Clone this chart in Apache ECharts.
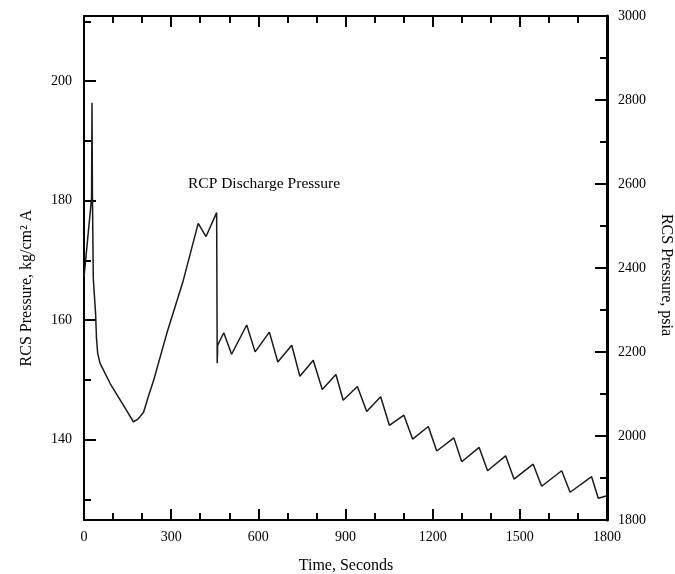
<!DOCTYPE html>
<html>
<head>
<meta charset="utf-8">
<script src="https://cdn.jsdelivr.net/npm/echarts@6/dist/echarts.min.js"></script>
<style>
html,body{margin:0;padding:0;background:#fff;}
#chart{width:675px;height:574px;}
</style>
</head>
<body>
<div id="chart"></div>
<script>
// ---- data ----
const timeSec = [0, 26, 27.5, 29, 32, 40, 43, 47, 55, 90,
  120, 150, 170, 185, 205, 222, 240, 285, 342, 393,
  420, 456.5, 458.5, 460, 481, 508, 560, 589, 638, 667,
  715, 743, 789, 820, 867, 892, 941, 973, 1021, 1051,
  1101, 1131, 1185, 1214, 1273, 1300, 1360, 1389, 1451, 1480,
  1546, 1575, 1644, 1673, 1747, 1770, 1800];
const rcsPressureKg = [167.2, 180.4, 196.4, 181, 167, 161, 157, 154.5, 152.8, 149.4,
  147.0, 144.6, 143.0, 143.4, 144.6, 147.3, 150.0, 157.8, 166.7, 176.2,
  174.0, 178.0, 152.8, 155.8, 157.9, 154.3, 159.2, 154.7, 158.0, 153.0,
  155.8, 150.6, 153.3, 148.4, 150.9, 146.6, 148.9, 144.7, 147.2, 142.4,
  144.1, 140.1, 142.2, 138.1, 140.3, 136.3, 138.7, 134.8, 137.3, 133.4,
  135.9, 132.2, 134.8, 131.2, 133.8, 130.2, 130.6];
const leftMajorTicks = [140, 160, 180, 200];
const leftMinorTicks = [130, 150, 170, 190, 210];
const psiaRange = [1800, 3000];
const timeRange = [0, 1800];
const PSI_PER_KGCM2 = 14.2233;
const annotationText = 'RCP Discharge Pressure';
const xTitle = 'Time, Seconds';
const leftTitle = 'RCS Pressure, kg/cm\u00B2 A';
const rightTitle = 'RCS Pressure, psia';

// ---- chart ----
const FONT = 'Liberation Serif';
const kgMin = psiaRange[0] / PSI_PER_KGCM2;
const kgMax = psiaRange[1] / PSI_PER_KGCM2;
const lbl = {color: '#000', fontFamily: FONT, fontSize: 14, formatter: v => String(Math.round(v))};
const line2 = {color: '#000', width: 2};

const chart = echarts.init(document.getElementById('chart'), null, {renderer: 'canvas'});
const xCommon = {
  type: 'value', min: timeRange[0], max: timeRange[1], interval: 300,
  axisLine: {show: true, onZero: false, lineStyle: line2},
  axisTick: {show: true, inside: true, length: 11, lineStyle: line2},
  minorTick: {show: true, splitNumber: 3, length: 7, lineStyle: line2},
  splitLine: {show: false}, minorSplitLine: {show: false}
};
chart.setOption({
  animation: false,
  backgroundColor: '#fff',
  grid: {left: 84, right: 68, top: 16, bottom: 54, containLabel: false},
  xAxis: [
    Object.assign({}, xCommon, {position: 'bottom', axisLabel: Object.assign({margin: 10}, lbl)}),
    Object.assign({}, xCommon, {position: 'top', axisLabel: {show: false}})
  ],
  yAxis: [
    {
      type: 'value', position: 'left', min: kgMin, max: kgMax,
      axisLine: {show: true, onZero: false, lineStyle: line2},
      axisTick: {show: true, inside: true, length: 12, lineStyle: line2, customValues: leftMajorTicks},
      axisLabel: Object.assign({margin: 12, customValues: leftMajorTicks}, lbl),
      splitLine: {show: false}
    },
    {
      type: 'value', position: 'left', min: kgMin, max: kgMax,
      axisLine: {show: false},
      axisTick: {show: true, inside: true, length: 7, lineStyle: line2, customValues: leftMinorTicks},
      axisLabel: {show: false},
      splitLine: {show: false}
    },
    {
      type: 'value', position: 'right', min: psiaRange[0], max: psiaRange[1], interval: 200,
      axisLine: {show: true, onZero: false, lineStyle: {color: '#000', width: 3}},
      axisTick: {show: true, inside: true, length: 12, lineStyle: line2},
      minorTick: {show: true, splitNumber: 2, length: 7, lineStyle: line2},
      axisLabel: Object.assign({margin: 11}, lbl),
      splitLine: {show: false}, minorSplitLine: {show: false}
    }
  ],
  series: [{
    type: 'line', xAxisIndex: 0, yAxisIndex: 0,
    data: timeSec.map((t, i) => [t, rcsPressureKg[i]]),
    showSymbol: false, symbol: 'none',
    lineStyle: {color: '#1a1a1a', width: 1.5},
    z: 1
  }],
  graphic: [
    {type: 'text', x: 188, y: 184, style: {text: annotationText, font: '15.5px "Liberation Serif"', fill: '#000', align: 'left', verticalAlign: 'middle'}},
    {type: 'text', x: 346, y: 566, style: {text: xTitle, font: '16px "Liberation Serif"', fill: '#000', align: 'center', verticalAlign: 'middle'}},
    {type: 'text', x: 27, y: 288, rotation: Math.PI / 2, style: {text: leftTitle, font: '16px "Liberation Serif"', fill: '#000', align: 'center', verticalAlign: 'middle'}},
    {type: 'text', x: 666, y: 275, rotation: -Math.PI / 2, style: {text: rightTitle, font: '16px "Liberation Serif"', fill: '#000', align: 'center', verticalAlign: 'middle'}}
  ]
});
</script>
</body>
</html>
